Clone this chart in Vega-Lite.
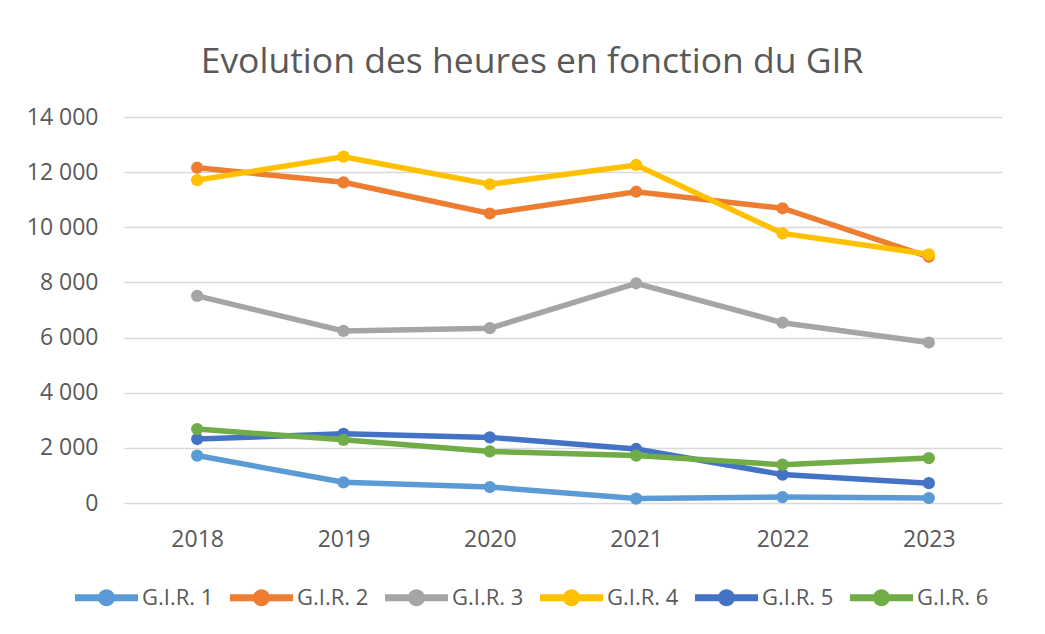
{
  "$schema": "https://vega.github.io/schema/vega-lite/v6.json",
  "autosize": {"type": "none"},
  "width": 878,
  "height": 386,
  "padding": {"left": 124, "top": 117, "right": 43, "bottom": 131},
  "background": "white",
  "title": {
    "text": "Evolution des heures en fonction du GIR",
    "anchor": "middle",
    "frame": "group",
    "font": "Open Sans",
    "fontSize": 35.5,
    "fontWeight": "normal",
    "color": "#595959",
    "dx": -31,
    "offset": 26
  },
  "data": {
    "values": [
      {"annee": "2018", "gir": "G.I.R. 1", "heures": 1720},
      {"annee": "2019", "gir": "G.I.R. 1", "heures": 750},
      {"annee": "2020", "gir": "G.I.R. 1", "heures": 580},
      {"annee": "2021", "gir": "G.I.R. 1", "heures": 160},
      {"annee": "2022", "gir": "G.I.R. 1", "heures": 215},
      {"annee": "2023", "gir": "G.I.R. 1", "heures": 180},
      {"annee": "2018", "gir": "G.I.R. 2", "heures": 12160},
      {"annee": "2019", "gir": "G.I.R. 2", "heures": 11630},
      {"annee": "2020", "gir": "G.I.R. 2", "heures": 10500},
      {"annee": "2021", "gir": "G.I.R. 2", "heures": 11290},
      {"annee": "2022", "gir": "G.I.R. 2", "heures": 10690},
      {"annee": "2023", "gir": "G.I.R. 2", "heures": 8930},
      {"annee": "2018", "gir": "G.I.R. 3", "heures": 7510},
      {"annee": "2019", "gir": "G.I.R. 3", "heures": 6240},
      {"annee": "2020", "gir": "G.I.R. 3", "heures": 6340},
      {"annee": "2021", "gir": "G.I.R. 3", "heures": 7970},
      {"annee": "2022", "gir": "G.I.R. 3", "heures": 6540},
      {"annee": "2023", "gir": "G.I.R. 3", "heures": 5820},
      {"annee": "2018", "gir": "G.I.R. 4", "heures": 11710},
      {"annee": "2019", "gir": "G.I.R. 4", "heures": 12560},
      {"annee": "2020", "gir": "G.I.R. 4", "heures": 11560},
      {"annee": "2021", "gir": "G.I.R. 4", "heures": 12260},
      {"annee": "2022", "gir": "G.I.R. 4", "heures": 9780},
      {"annee": "2023", "gir": "G.I.R. 4", "heures": 9020},
      {"annee": "2018", "gir": "G.I.R. 5", "heures": 2320},
      {"annee": "2019", "gir": "G.I.R. 5", "heures": 2510},
      {"annee": "2020", "gir": "G.I.R. 5", "heures": 2380},
      {"annee": "2021", "gir": "G.I.R. 5", "heures": 1960},
      {"annee": "2022", "gir": "G.I.R. 5", "heures": 1030},
      {"annee": "2023", "gir": "G.I.R. 5", "heures": 720},
      {"annee": "2018", "gir": "G.I.R. 6", "heures": 2680},
      {"annee": "2019", "gir": "G.I.R. 6", "heures": 2290},
      {"annee": "2020", "gir": "G.I.R. 6", "heures": 1870},
      {"annee": "2021", "gir": "G.I.R. 6", "heures": 1720},
      {"annee": "2022", "gir": "G.I.R. 6", "heures": 1390},
      {"annee": "2023", "gir": "G.I.R. 6", "heures": 1630}
    ]
  },
  "encoding": {
    "x": {
      "field": "annee",
      "type": "ordinal",
      "scale": {"type": "point", "padding": 0.5},
      "axis": {
        "title": null,
        "labelAngle": 0,
        "domain": false,
        "ticks": false,
        "tickSize": 0,
        "grid": false,
        "labelPadding": 25,
        "labelFont": "Open Sans",
        "labelFontSize": 23,
        "labelColor": "#595959"
      }
    },
    "y": {
      "field": "heures",
      "type": "quantitative",
      "scale": {"domain": [0, 14000], "nice": false},
      "axis": {
        "title": null,
        "values": [0, 2000, 4000, 6000, 8000, 10000, 12000, 14000],
        "labelExpr": "replace(format(datum.value, ','), ',', ' ')",
        "domain": false,
        "ticks": false,
        "tickSize": 0,
        "grid": true,
        "gridColor": "#d9d9d9",
        "gridWidth": 1.5,
        "labelPadding": 26,
        "labelFont": "Open Sans",
        "labelFontSize": 23,
        "labelColor": "#595959"
      }
    },
    "color": {
      "field": "gir",
      "type": "nominal",
      "scale": {
        "domain": ["G.I.R. 1", "G.I.R. 2", "G.I.R. 3", "G.I.R. 4", "G.I.R. 5", "G.I.R. 6"],
        "range": ["#5B9BD5", "#ED7D31", "#A5A5A5", "#FFC000", "#4472C4", "#70AD47"]
      },
      "legend": {
        "title": null,
        "orient": "none",
        "direction": "horizontal",
        "columns": 6,
        "legendX": -49,
        "legendY": 449,
        "symbolType": "M-1,-0.11L1,-0.11L1,0.11L-1,0.11Z M0.27,0A0.27,0.27 0 1,1 -0.27,0A0.27,0.27 0 1,1 0.27,0Z",
        "symbolSize": 3969,
        "symbolStrokeWidth": 0,
        "labelOffset": 4,
        "columnPadding": 16,
        "labelFont": "Open Sans",
        "labelFontSize": 22,
        "labelColor": "#595959",
        "encode": {
          "symbols": {
            "update": {
              "fill": {"scale": "color", "field": "value"},
              "fillOpacity": {"value": 1},
              "strokeWidth": {"value": 0}
            }
          }
        }
      }
    }
  },
  "layer": [
    {"mark": {"type": "line", "strokeWidth": 5.5}},
    {"mark": {"type": "point", "shape": "circle", "filled": true, "size": 150, "opacity": 1}}
  ],
  "config": {
    "view": {"stroke": null}
  }
}
